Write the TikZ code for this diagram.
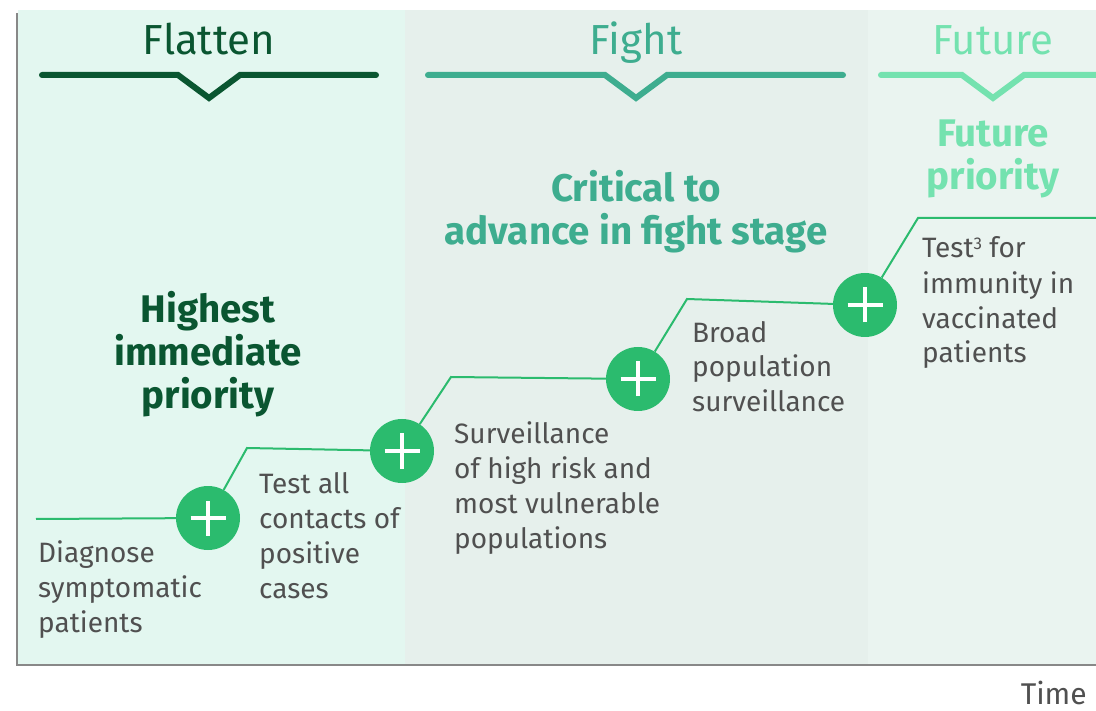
\documentclass[tikz,border=0pt]{standalone}
\usepackage{fontspec}
\setmainfont{Fira Sans}
\definecolor{bgA}{HTML}{E3F7F0}
\definecolor{bgB}{HTML}{E6F0EC}
\definecolor{bgC}{HTML}{EAF4F0}
\definecolor{flat}{HTML}{0A5631}
\definecolor{fight}{HTML}{3EAD8F}
\definecolor{future}{HTML}{74E2AF}
\definecolor{circ}{HTML}{2BBB6E}
\definecolor{body}{HTML}{505050}
\definecolor{axisc}{HTML}{888888}
\tikzset{
  hdr/.style={line width=6pt, line cap=round, line join=miter},
  phase/.style={anchor=base, inner sep=0pt, font=\fontsize{42}{48}\selectfont},
  prio/.style={anchor=base, inner sep=0pt, align=center, font=\bfseries\fontsize{38.5}{43}\selectfont},
  stepline/.style={draw=circ, line width=2pt},
  plus/.style={circle, fill=circ, minimum size=64pt, inner sep=0pt,
    path picture={\draw[white,line width=3.5pt]
      ([xshift=-17.5pt]path picture bounding box.center) -- ([xshift=17.5pt]path picture bounding box.center)
      ([yshift=-17.5pt]path picture bounding box.center) -- ([yshift=17.5pt]path picture bounding box.center);}},
  desc/.style={anchor=base west, inner sep=0pt, align=left, text=body, font=\fontsize{28}{35}\selectfont},
}
\begin{document}
\begin{tikzpicture}[x=1pt,y=-1pt]
\useasboundingbox (0,0) rectangle (1096,711);
\fill[white] (0,0) rectangle (1096,711);
\fill[bgA] (18,10) rectangle (405,664);
\fill[bgB] (405,10) rectangle (868,664);
\fill[bgC] (868,10) rectangle (1096,664);
\draw[axisc, line width=2pt] (17,13) -- (17,665) -- (1096,665);

% phase headers
\node[phase, text=flat] (hflat) at (209,55) {Flatten};
\node[phase, text=fight] (hfight) at (636,55) {Fight};
\node[phase, text=future] (hfuture) at (993,55) {Future};
\draw[hdr, flat] (42,75) -- (178,75) -- (209,98) -- (240,75) -- (376,75);
\draw[hdr, fight] (428,75) -- (605,75) -- (636,98) -- (667,75) -- (843,75);
\draw[hdr, future] (881,75) -- (962,75) -- (993,98) -- (1024,75) -- (1100,75);

% priorities (anchor = baseline of last line)
\node[prio, text=flat] (pflat) at (208,409) {Highest\\immediate\\priority};
\node[prio, text=fight] (pfight) at (636,245) {Critical to\\advance in fight stage};
\node[prio, text=future] (pfuture) at (993,190) {Future\\priority};

% steps
\node[plus] (c1) at (208,518) {};
\node[plus] (c2) at (402,451) {};
\node[plus] (c3) at (638,379) {};
\node[plus] (c4) at (865,305) {};
\coordinate (s0) at (36,519);
\coordinate (k1) at (247,448);
\coordinate (k2) at (451,377);
\coordinate (k3) at (687,299);
\coordinate (k4) at (918,218);
\coordinate (s5) at (1096,218);
\draw[stepline] (s0) -- (c1) -- (k1) -- (c2) -- (k2) -- (c3) -- (k3) -- (c4) -- (k4) -- (s5);

% descriptions (anchor = baseline of last line)
\node[desc] (d1) at (38,632) {Diagnose\\symptomatic\\patients};
\node[desc] (d2) at (259,598) {Test all\\contacts of\\positive\\cases};
\node[desc] (d3) at (454,548) {Surveillance\\of high risk and\\most vulnerable\\populations};
\node[desc] (d4) at (692,412) {Broad\\population\\surveillance};
\node[desc] (d5) at (922,363) {Test\raisebox{0.55ex}{\fontsize{17}{17}\selectfont 3} for\\immunity in\\vaccinated\\patients};

\node[anchor=base east, inner sep=0pt, text depth=0pt, text=body, font=\fontsize{30}{35}\selectfont] (time) at (1087,704) {Time};
\end{tikzpicture}
\end{document}
